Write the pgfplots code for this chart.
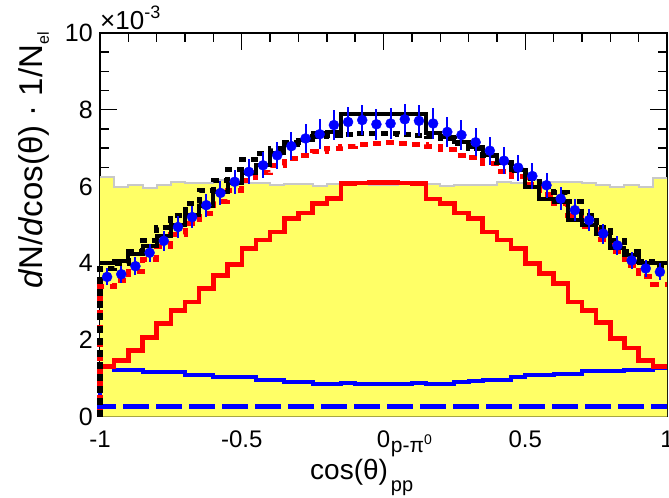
\documentclass[border=0pt]{standalone}
\usepackage{fontspec}
\setmainfont{Liberation Sans}
\usepackage{pgfplots}
\pgfplotsset{compat=1.18}
\usepackage{pgfplotstable}

\definecolor{histyellow}{RGB}{255,255,102}
\definecolor{histgray}{RGB}{200,200,200}

% 40 bins of width 0.05; x = left bin edge.
% The first row starts the outlines at zero, the last one closes the last bin.
\pgfplotstableread{
x     yel  red  rdash blk  bdash blu  bld
-1.00 0    0    0     0    0     0    0
-1.00 6.25 1.30 3.40  3.99 3.85  1.29 0.25
-0.95 5.99 1.46 3.55  4.05 4.00  1.22 0.25
-0.90 6.03 1.72 3.78  4.25 4.30  1.22 0.25
-0.85 5.97 2.06 4.10  4.45 4.60  1.17 0.25
-0.80 6.03 2.43 4.42  4.70 4.94  1.17 0.25
-0.75 6.12 2.77 4.75  5.00 5.25  1.17 0.25
-0.70 6.09 2.98 5.02  5.25 5.55  1.09 0.25
-0.65 6.09 3.34 5.30  5.50 5.90  1.09 0.25
-0.60 6.16 3.68 5.60  5.85 6.15  1.04 0.25
-0.55 6.16 3.96 5.90  6.10 6.45  1.04 0.25
-0.50 6.10 4.38 6.15  6.35 6.70  1.03 0.25
-0.45 6.09 4.60 6.35  6.55 6.85  0.96 0.25
-0.40 6.03 4.81 6.55  6.86 7.00  0.96 0.25
-0.35 6.06 5.16 6.73  7.07 7.15  0.91 0.25
-0.30 6.06 5.31 6.81  7.20 7.25  0.91 0.25
-0.25 6.00 5.55 6.92  7.39 7.30  0.85 0.25
-0.20 6.06 5.68 6.99  7.42 7.34  0.85 0.25
-0.15 6.08 6.08 7.05  7.90 7.36  0.88 0.25
-0.10 6.05 6.09 7.08  7.90 7.38  0.85 0.25
-0.05 6.03 6.10 7.12  7.90 7.38  0.85 0.25
 0.00 6.03 6.10 7.14  7.90 7.38  0.85 0.25
 0.05 6.05 6.09 7.12  7.90 7.36  0.85 0.25
 0.10 6.08 6.08 7.08  7.90 7.34  0.88 0.25
 0.15 6.06 5.67 7.03  7.39 7.30  0.84 0.25
 0.20 6.00 5.56 6.95  7.29 7.25  0.84 0.25
 0.25 6.03 5.31 6.81  7.16 7.12  0.90 0.25
 0.30 6.03 5.16 6.75  7.03 6.98  0.92 0.25
 0.35 6.03 4.81 6.60  6.81 6.80  0.96 0.25
 0.40 6.12 4.60 6.40  6.64 6.62  0.96 0.25
 0.45 6.10 4.38 6.25  6.42 6.42  1.03 0.25
 0.50 6.16 3.99 6.05  5.99 6.20  1.07 0.25
 0.55 6.12 3.73 5.80  5.68 6.00  1.07 0.25
 0.60 6.12 3.47 5.55  5.60 5.85  1.11 0.25
 0.65 6.12 2.98 5.25  5.12 5.60  1.11 0.25
 0.70 6.10 2.77 4.95  5.00 5.25  1.18 0.25
 0.75 6.03 2.45 4.62  4.75 4.94  1.18 0.25
 0.80 5.99 2.04 4.30  4.39 4.60  1.18 0.25
 0.85 6.04 1.78 3.95  4.20 4.29  1.22 0.25
 0.90 5.99 1.46 3.65  3.99 4.05  1.22 0.25
 0.95 6.23 1.30 3.45  3.99 3.95  1.27 0.25
 1.00 6.23 1.30 3.45  3.99 3.95  1.27 0.25
}\hist

% measured distribution: bin centre, value, uncertainty
\pgfplotstableread{
x      y    e
-0.975 3.64 0.22
-0.925 3.71 0.22
-0.875 3.92 0.23
-0.825 4.27 0.24
-0.775 4.58 0.26
-0.725 4.94 0.28
-0.675 5.20 0.29
-0.625 5.51 0.30
-0.575 5.83 0.31
-0.525 6.12 0.32
-0.475 6.38 0.33
-0.425 6.55 0.34
-0.375 6.81 0.36
-0.325 7.05 0.37
-0.275 7.25 0.38
-0.225 7.36 0.39
-0.175 7.60 0.40
-0.125 7.68 0.40
-0.075 7.73 0.40
-0.025 7.62 0.40
 0.025 7.64 0.40
 0.075 7.75 0.40
 0.125 7.71 0.40
 0.175 7.64 0.40
 0.225 7.42 0.39
 0.275 7.34 0.38
 0.325 7.15 0.37
 0.375 6.93 0.36
 0.425 6.67 0.35
 0.475 6.49 0.34
 0.525 6.27 0.33
 0.575 6.03 0.32
 0.625 5.68 0.30
 0.675 5.38 0.29
 0.725 5.12 0.28
 0.775 4.77 0.26
 0.825 4.46 0.25
 0.875 4.07 0.23
 0.925 3.86 0.22
 0.975 3.77 0.22
}\data

\begin{document}
\begin{tikzpicture}
\begin{axis}[
  width=567bp, height=383.5bp, scale only axis,
  xmin=-1, xmax=1, ymin=0, ymax=10,
  clip=false,
  axis line style={line width=1.4bp},
  every tick/.style={black, line width=1.4bp},
  tick align=inside,
  major tick length=17bp, minor tick length=9bp,
  xtick={-1,-0.5,0,0.5,1}, xticklabels={-1,-0.5,0,0.5,1},
  minor x tick num=4,
  ytick={0,2,4,6,8,10}, yticklabels={0,2,4,6,8,10},
  minor y tick num=3,
  tick label style={inner sep=0pt},
  xticklabel style={font=\fontsize{24bp}{24bp}\selectfont, anchor=north, yshift=-14bp},
  yticklabel style={font=\fontsize{25bp}{25bp}\selectfont, anchor=east, xshift=-7bp},
]
  % filled background histogram
  \addplot[const plot, fill=histyellow, draw=none] table[x=x, y=yel]{\hist} \closedcycle;
  \addplot[const plot, draw=histgray, line width=2bp, skip coords between index={0}{1}] table[x=x, y=yel]{\hist};
  % blue components
  \addplot[const plot, blue, line width=5bp, dash pattern=on 26bp off 7bp] table[x=x, y=bld]{\hist};
  \addplot[const plot, blue, line width=4bp] table[x=x, y=blu]{\hist};
  % red components
  \addplot[const plot, red, line width=4.5bp, skip coords between index={0}{1}] table[x=x, y=red]{\hist};
  \addplot[const plot, red, line width=5bp, dash pattern=on 8bp off 6bp] table[x=x, y=rdash]{\hist};
  % black totals
  \addplot[const plot, black, line width=5bp, dash pattern=on 7bp off 5bp] table[x=x, y=bdash]{\hist};
  \addplot[const plot, black, line width=4bp, skip coords between index={0}{1}] table[x=x, y=blk]{\hist};
  % data points
  \addplot[only marks, mark=*, mark size=5bp, mark options={blue, fill=blue},
    error bars/.cd, y dir=both, y explicit, error mark=none,
    error bar style={blue, line width=2bp}]
    table[x=x, y=y, y error=e]{\data};

  \coordinate (bl) at (rel axis cs:0,0);
  \coordinate (tl) at (rel axis cs:0,1);
  \coordinate (tr) at (rel axis cs:1,1);
\end{axis}

\node[anchor=base west, inner sep=0pt, font=\fontsize{26bp}{26bp}\selectfont]
  at ([yshift=3bp]tl) {×10\raisebox{11bp}{\fontsize{18bp}{18bp}\selectfont -3}};

\node[rotate=90, anchor=base east, inner sep=0pt, font=\fontsize{33bp}{33bp}\selectfont]
  at ([shift={(-57bp,1bp)}]tl) {\textit{d}N/\textit{d}cos(θ) · 1/N\raisebox{-6bp}{\fontsize{16bp}{16bp}\selectfont el}};

\node[anchor=base west, inner sep=0pt, font=\fontsize{28bp}{28bp}\selectfont]
  at ([shift={(210bp,-63bp)}]bl)
  {cos(θ)\kern3bp\rlap{\raisebox{27bp}{\fontsize{21bp}{21bp}\selectfont p-π\raisebox{8bp}{\fontsize{14bp}{14bp}\selectfont 0}}}\raisebox{-12bp}{\fontsize{20bp}{20bp}\selectfont pp}};

\pgfresetboundingbox
\path ([shift={(-100bp,-81.5bp)}]bl) rectangle ([shift={(2bp,33bp)}]tr);
\end{tikzpicture}
\end{document}
